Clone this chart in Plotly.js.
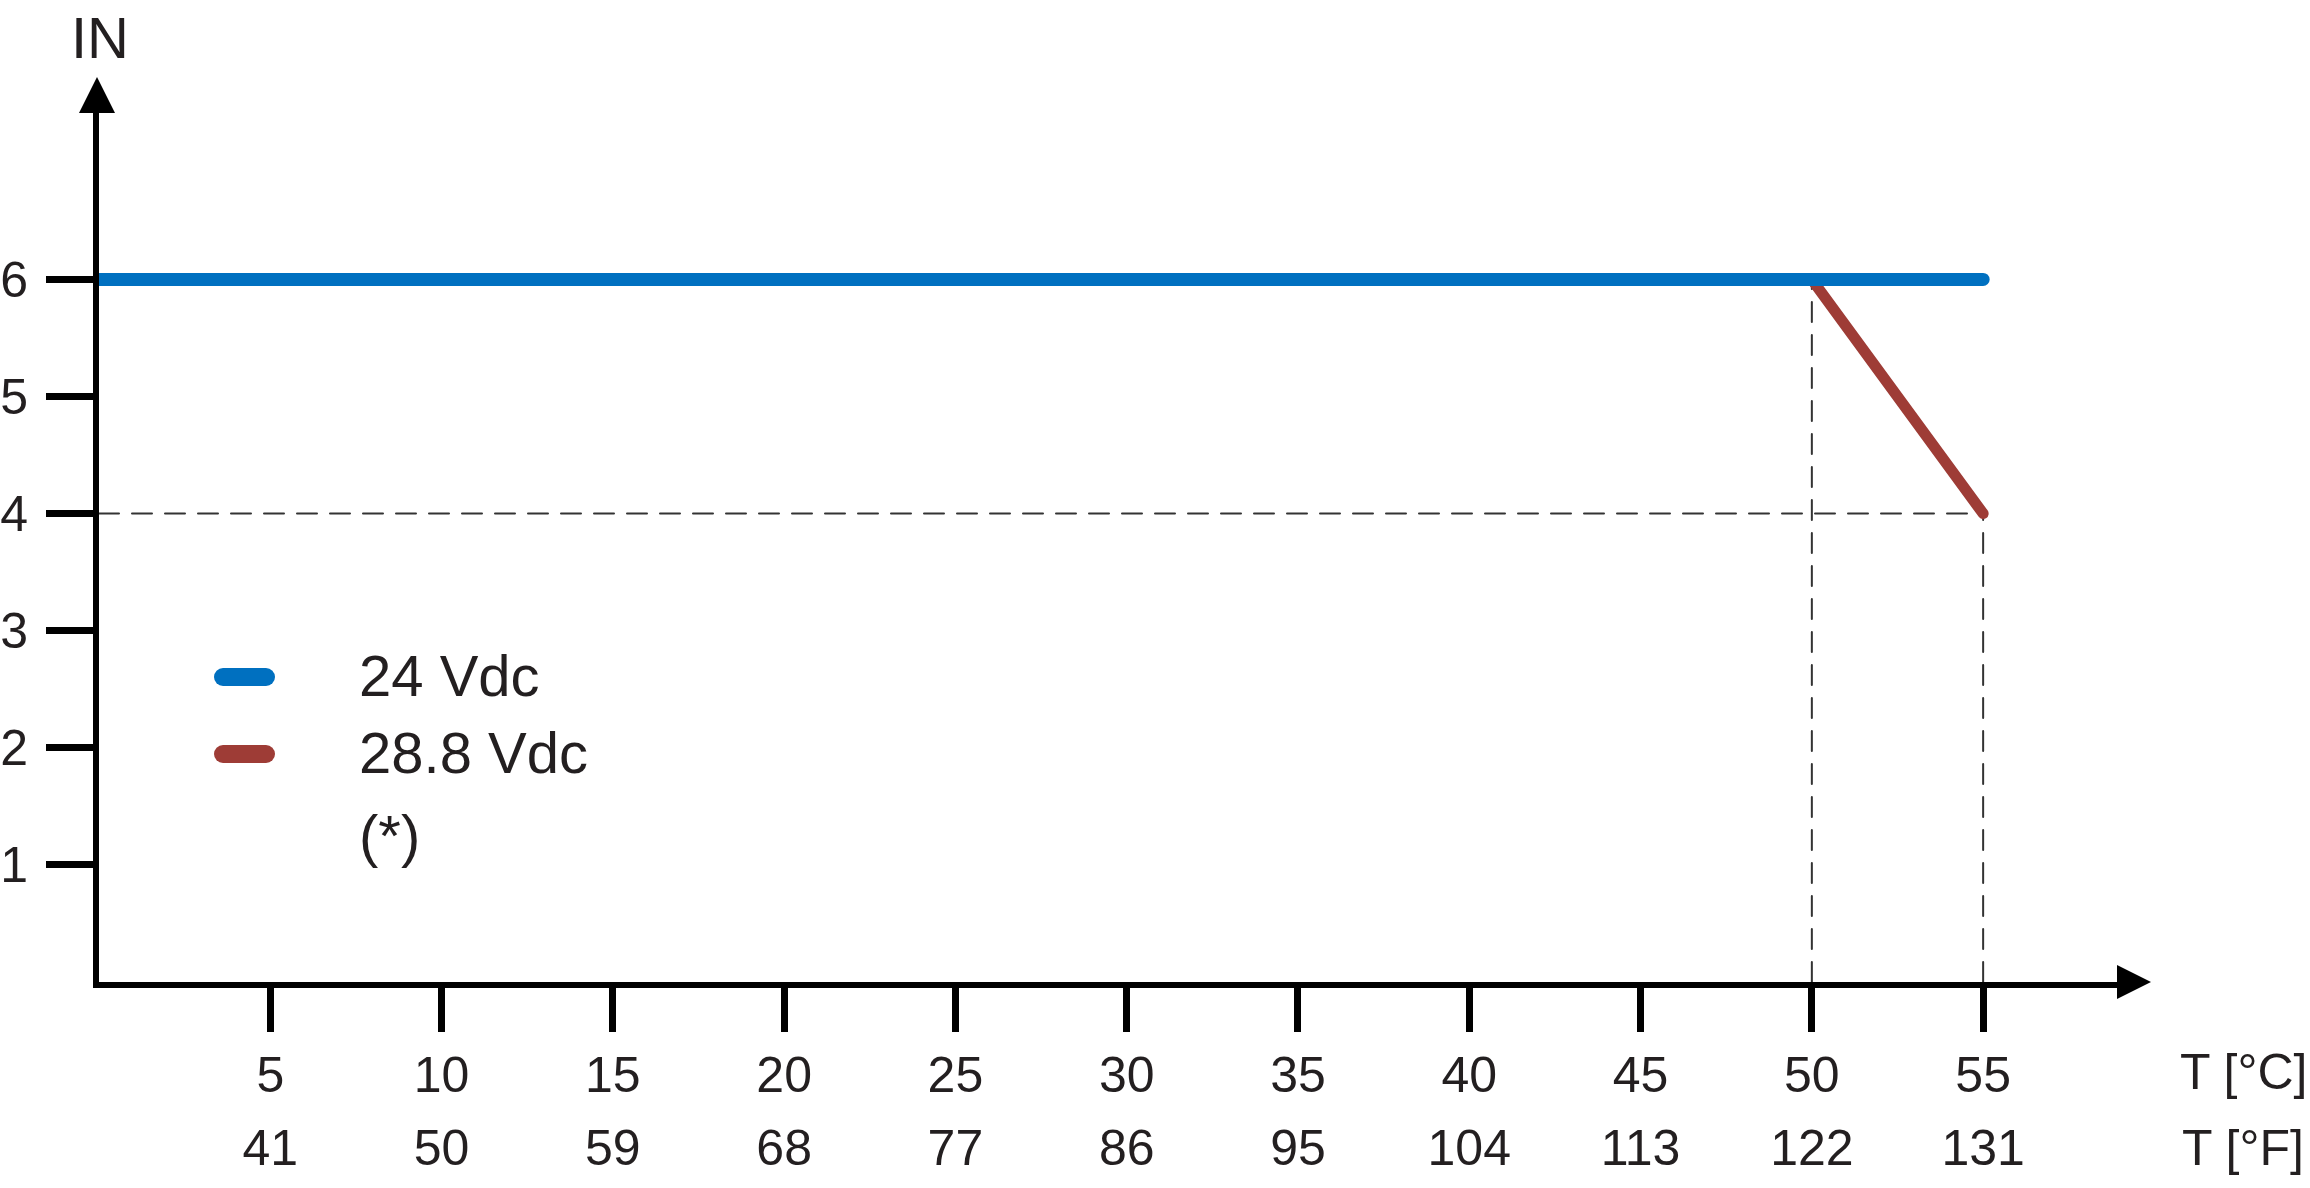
<!DOCTYPE html>
<html>
<head>
<meta charset="utf-8">
<script src="https://cdn.plot.ly/plotly-3.0.1.min.js"></script>
<style>
  html, body { margin: 0; padding: 0; background: #fff; }
  #chart { width: 2310px; height: 1188px; }
  .scatterlayer .js-line, .shapelayer path { stroke-linecap: round; }
</style>
</head>
<body>
<div id="chart"></div>
<script>
// temperature axis (°C) and the matching °F labels
const tempC = [5, 10, 15, 20, 25, 30, 35, 40, 45, 50, 55];
const tempF = [41, 50, 59, 68, 77, 86, 95, 104, 113, 122, 131];
const currentTicks = [1, 2, 3, 4, 5, 6];

// 24 Vdc: full current over the whole range
const v24X = [0, 55];
const v24Y = [6, 6];
// 28.8 Vdc: derating from 50 °C
const v288X = [50, 55];
const v288Y = [6, 4];

const seriesNames = ['24 Vdc', '28.8 Vdc'];
const seriesColors = ['#0070c0', '#9e3c36'];
const noteText = '(*)';

const FONT = 'Liberation Sans, Arial, sans-serif';
const TXT = '#231f20';

// plot box in pixels, used to place decorations in paper coords
const L = 99, R = 2125, T = 100, B = 982;
const xPerUnit = 34.257, yPerUnit = 117.1;
const px = x => (x - L) / (R - L);
const py = y => (B - y) / (B - T);

// helper lines from the derating corners down to the axes
const guideX = [0, v288X[1], null, v288X[0], v288X[0], null, v288X[1], v288X[1]];
const guideY = [v288Y[1], v288Y[1], null, 0, v288Y[0], null, 0, v288Y[1]];

const guides = {
  x: guideX, y: guideY, mode: 'lines', connectgaps: false,
  line: { color: '#333333', width: 2, dash: '20px,13px' },
  hoverinfo: 'skip', showlegend: false, cliponaxis: false,
};
const red = {
  x: v288X, y: v288Y, mode: 'lines', name: seriesNames[1],
  line: { color: seriesColors[1], width: 11 }, showlegend: false, cliponaxis: false,
};
const blue = {
  x: v24X, y: v24Y, mode: 'lines', name: seriesNames[0],
  line: { color: seriesColors[0], width: 13 }, showlegend: false, cliponaxis: false,
};
// invisible trace to carry the second (°F) axis
const fAxisCarrier = {
  x: tempC, y: tempC.map(() => null), xaxis: 'x2', yaxis: 'y',
  mode: 'lines', showlegend: false, hoverinfo: 'skip',
};

const xRange = [0, (R - L) / xPerUnit];
const yRange = [0, (B - T) / yPerUnit];

// legend drawn by hand: short rounded strokes + labels
const legendRowsPx = [677, 754];
const shapes = [
  // x axis arrow head
  { type: 'path', xref: 'paper', yref: 'paper',
    path: `M ${px(2117)} ${py(965)} L ${px(2151)} ${py(982)} L ${px(2117)} ${py(999)} Z`,
    fillcolor: '#000', line: { width: 0 } },
  // y axis arrow head
  { type: 'path', xref: 'paper', yref: 'paper',
    path: `M ${px(79)} ${py(113)} L ${px(97)} ${py(77)} L ${px(115)} ${py(113)} Z`,
    fillcolor: '#000', line: { width: 0 } },
];
seriesNames.forEach((n, i) => {
  shapes.push({
    type: 'line', xref: 'paper', yref: 'paper',
    x0: px(223), x1: px(266), y0: py(legendRowsPx[i]), y1: py(legendRowsPx[i]),
    line: { color: seriesColors[i], width: 18 },
  });
});

const annotations = [
  { text: 'IN', xref: 'paper', yref: 'paper', x: px(100), y: py(37),
    xanchor: 'center', yanchor: 'middle', showarrow: false,
    font: { family: FONT, size: 58, color: TXT } },
  { text: 'T [°C]', xref: 'paper', yref: 'paper', x: px(2243), y: py(1072),
    xanchor: 'center', yanchor: 'middle', showarrow: false,
    font: { family: FONT, size: 50, color: TXT } },
  { text: 'T [°F]', xref: 'paper', yref: 'paper', x: px(2243), y: py(1148),
    xanchor: 'center', yanchor: 'middle', showarrow: false,
    font: { family: FONT, size: 50, color: TXT } },
  { text: noteText, xref: 'paper', yref: 'paper', x: px(357), y: py(835),
    xanchor: 'left', yanchor: 'middle', showarrow: false,
    font: { family: FONT, size: 58, color: TXT } },
];
seriesNames.forEach((n, i) => {
  annotations.push({
    text: n, xref: 'paper', yref: 'paper', x: px(357), y: py(legendRowsPx[i] - 2),
    xanchor: 'left', yanchor: 'middle', showarrow: false,
    font: { family: FONT, size: 58, color: TXT },
  });
});

const tickFont = { family: FONT, size: 50, color: TXT };

const layout = {
  width: 2310,
  height: 1188,
  margin: { l: L, r: 2310 - R, t: T, b: 1188 - B, pad: 0 },
  paper_bgcolor: '#fff',
  plot_bgcolor: '#fff',
  showlegend: false,
  xaxis: {
    range: xRange, showgrid: false, zeroline: false,
    showline: true, linewidth: 6, linecolor: '#000',
    ticks: 'outside', ticklen: 44, tickwidth: 7, tickcolor: '#000',
    tickmode: 'array', tickvals: tempC, ticktext: tempC.map(String),
    tickfont: tickFont, ticklabelstandoff: 0,
  },
  xaxis2: {
    range: xRange, overlaying: 'x', anchor: 'y', side: 'bottom',
    showgrid: false, zeroline: false, showline: false, ticks: '',
    tickmode: 'array', tickvals: tempC, ticktext: tempF.map(String),
    tickfont: tickFont, ticklabelstandoff: 132,
  },
  yaxis: {
    range: yRange, showgrid: false, zeroline: false,
    showline: true, linewidth: 6, linecolor: '#000',
    ticks: 'outside', ticklen: 47, tickwidth: 7, tickcolor: '#000',
    tickmode: 'array', tickvals: currentTicks, ticktext: currentTicks.map(String),
    tickfont: tickFont, ticklabelstandoff: 8,
  },
  shapes: shapes,
  annotations: annotations,
};

Plotly.newPlot('chart', [guides, red, blue, fAxisCarrier], layout, {
  displayModeBar: false, staticPlot: true,
});
</script>
</body>
</html>
